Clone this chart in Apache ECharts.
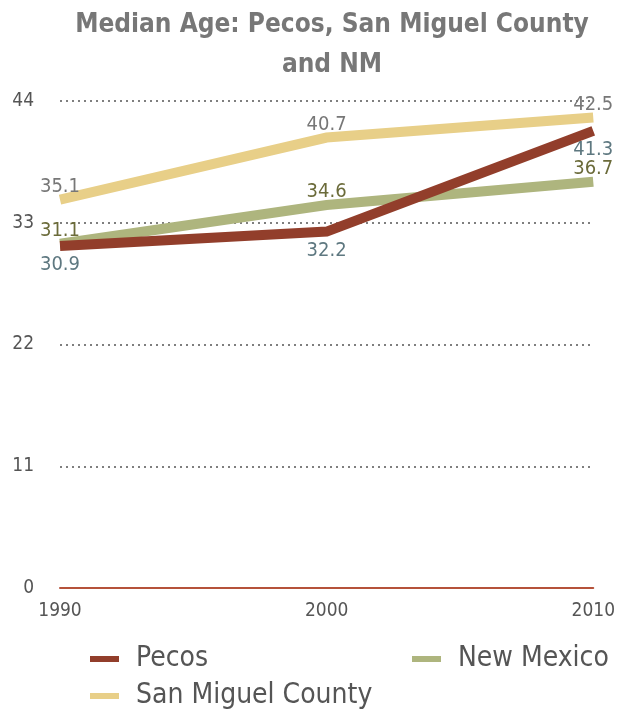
<!DOCTYPE html>
<html><head><meta charset="utf-8">
<script src="https://cdn.jsdelivr.net/npm/echarts@6/dist/echarts.min.js"></script>
<style>html,body{margin:0;padding:0;background:#fff}#c{width:618px;height:712px}</style>
</head><body><div id="c"></div>
<script>
const years = ['1990', '2000', '2010'];
const pecos = [30.9, 32.2, 41.3];
const sanMiguel = [35.1, 40.7, 42.5];
const newMexico = [31.1, 34.6, 36.7];
const yTicks = [0, 11, 22, 33, 44];

const FONT = '"DejaVu Sans Condensed", "DejaVu Sans", sans-serif';
const chart = echarts.init(document.getElementById('c'));
function ser(name, data, color, labelColor, pos, dist) {
  return {
    name, type: 'line', data, showSymbol: true, symbol: 'circle', symbolSize: 0,
    lineStyle: { width: 10, color, cap: 'butt', join: 'miter' },
    itemStyle: { color },
    label: { show: true, position: pos, distance: dist, color: labelColor, fontFamily: FONT, fontSize: 20 },
    emphasis: { disabled: true },
    z: 3
  };
}
function leg(name, left, top) {
  return { data: [name], orient: 'horizontal', left, top, padding: 0, itemWidth: 29, itemHeight: 6, icon: 'rect',
    textStyle: { color: '#555', fontFamily: FONT, fontSize: 28, padding: [0, 0, 0, 12] } };
}
chart.setOption({
  animation: false,
  title: {
    text: 'Median Age: Pecos, San Miguel County\nand NM',
    left: 327, top: 0, textAlign: 'center',
    textStyle: { color: '#777', fontFamily: FONT, fontSize: 26, fontWeight: 'bold', lineHeight: 40 }
  },
  grid: { left: 60, right: 24, top: 101, bottom: 124, containLabel: false },
  legend: [
    leg('Pecos', 90, 645),
    leg('San Miguel County', 90, 682),
    leg('New Mexico', 412, 645)
  ],
  xAxis: {
    type: 'category', data: years, boundaryGap: false,
    axisLine: { lineStyle: { color: '#b5523a', width: 2 } },
    axisTick: { show: false },
    axisLabel: { color: '#555', fontFamily: FONT, fontSize: 19, margin: 14 }
  },
  yAxis: {
    type: 'value', min: yTicks[0], max: yTicks[yTicks.length - 1], interval: 11,
    axisLine: { show: false }, axisTick: { show: false },
    axisLabel: { color: '#555', fontFamily: FONT, fontSize: 19, margin: 26, padding: [5, 0, 0, 0],
      formatter: v => String(v) },
    splitLine: { lineStyle: { color: '#555', type: [2, 4], width: 1.5 } }
  },
  series: [
    ser('New Mexico', newMexico, '#aeb57e', '#6b6b3a', 'top', 3),
    ser('San Miguel County', sanMiguel, '#e8cf88', '#777777', 'top', 3),
    ser('Pecos', pecos, '#923e2b', '#5e7880', 'bottom', 9)
  ]
});
</script></body></html>
